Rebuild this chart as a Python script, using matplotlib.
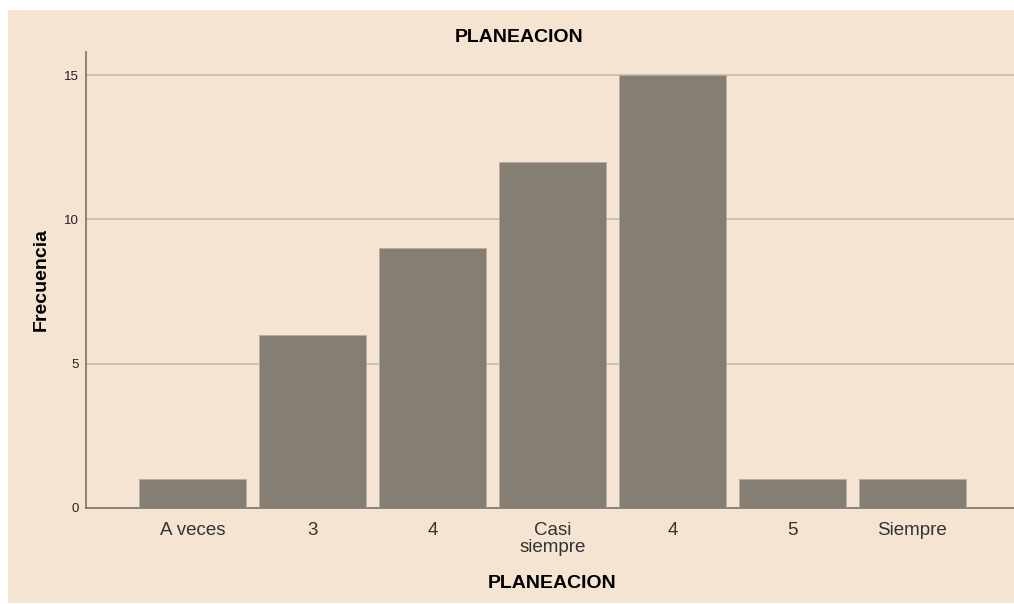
import matplotlib
matplotlib.use("Agg")
import matplotlib.pyplot as plt
from matplotlib.patches import Rectangle

categories = ["A veces", "3", "4", "Casi\nsiempre", "4", "5", "Siempre"]
values = [1, 6, 9, 12, 15, 1, 1]
yticks = [0, 5, 10, 15]

plt.rcParams['font.family'] = ['Liberation Sans', 'DejaVu Sans']

W, H = 1014, 604
fig = plt.figure(figsize=(W/100, H/100), dpi=100)
fig.patch.set_facecolor("white")
bg = "#F5E4D1"
fig.patches.append(Rectangle((8/W, 1/H), 1 - 8/W, 1 - 11/H, transform=fig.transFigure,
                             facecolor=bg, edgecolor="none", zorder=-10))

ax = fig.add_axes([86/W, 1 - 508/H, 1 - 86/W, (508 - 52)/H])
ax.set_facecolor(bg)
x = list(range(len(categories)))
ax.bar(x, values, width=107/120, color="#857E73", edgecolor="#B8AD9F", linewidth=0.6, zorder=3)
ax.set_xlim(-0.8875, 6.846)
ax.set_ylim(0, 15.8)
ax.set_yticks(yticks)
ax.set_yticklabels([str(v) for v in yticks], fontsize=9.5, color="#222222")
ax.set_xticks(x)
ax.set_xticklabels(categories, fontsize=13.5, color="#333333", linespacing=1.02)
ax.tick_params(axis='both', length=0)
ax.tick_params(axis='y', pad=5)
ax.tick_params(axis='x', pad=10)
ax.grid(axis='y', color="#C9BBAA", linewidth=1.2, zorder=1)
ax.set_axisbelow(True)
for s in ["top", "right"]:
    ax.spines[s].set_visible(False)
for s in ["left", "bottom"]:
    ax.spines[s].set_color("#7A7268")
    ax.spines[s].set_linewidth(1.2)

fig.text(519/W, 1 - 37/H, "PLANEACION", ha="center", va="center", fontsize=14, fontweight="bold")
fig.text(552/W, 1 - 584/H, "PLANEACION", ha="center", va="center", fontsize=14, fontweight="bold")
fig.text(41/W, 1 - 280/H, "Frecuencia", ha="center", va="center", rotation=90, fontsize=14, fontweight="bold")

fig.savefig("out.png", dpi=100, facecolor=fig.get_facecolor())
